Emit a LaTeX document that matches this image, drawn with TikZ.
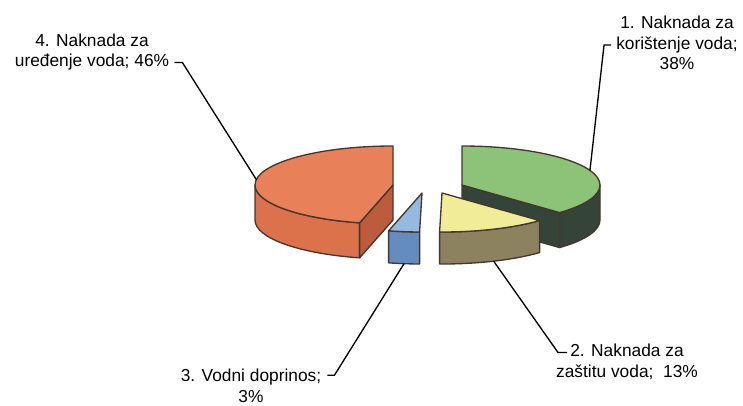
\documentclass[tikz,border=0pt]{standalone}
\usepackage{fontspec}
\setmainfont{Liberation Sans}
\usepackage{tikz}
\definecolor{edgec}{RGB}{70,55,45}
\definecolor{ortop}{RGB}{232,128,90}
\definecolor{orside}{RGB}{220,114,76}
\definecolor{ordark}{RGB}{188,92,60}
\definecolor{grtop}{RGB}{140,195,120}
\definecolor{grside}{RGB}{52,68,56}
\definecolor{yltop}{RGB}{240,236,152}
\definecolor{ylside}{RGB}{140,130,95}
\definecolor{bltop}{RGB}{150,185,225}
\definecolor{blside}{RGB}{100,140,190}

\begin{document}
\begin{tikzpicture}[x=0.75pt, y=0.75pt,
  slice/.style={draw=edgec, line width=1pt, line join=round},
  leader/.style={draw=black, line width=1pt},
  lbl/.style={inner sep=0pt, align=center, font=\fontsize{13}{15.5}\selectfont}]
\useasboundingbox (0,0) rectangle (743,405);

\begin{scope}[shift={(393,220)}]
  \path[slice, fill=orside] (180:138 and 39) arc[start angle=180, end angle=256, x radius=138, y radius=39]
    -- ++(0,-35) arc[start angle=256, end angle=180, x radius=138, y radius=39] -- cycle;
  \path[slice, fill=ordark] (0,0) -- (256:138 and 39) -- ++(0,-35) -- (0,-35) -- cycle;
  \path[slice, fill=ortop] (0,0) -- (90:138 and 39) arc[start angle=90, end angle=256, x radius=138, y radius=39] -- cycle;
  \coordinate (p4) at (172:138 and 39);
\end{scope}

\begin{scope}[shift={(462,220)}]
  \path[slice, fill=grside] (0,0) -- (-45:138 and 39) -- ++(0,-35) -- (0,-35) -- cycle;
  \path[slice, fill=grside] (-45:138 and 39) arc[start angle=-45, end angle=0, x radius=138, y radius=39]
    -- ++(0,-35) arc[start angle=0, end angle=-45, x radius=138, y radius=39] -- cycle;
  \path[slice, fill=grtop] (0,0) -- (-45:138 and 39) arc[start angle=-45, end angle=90, x radius=138, y radius=39] -- cycle;
  \coordinate (p1) at (22:138 and 39);
\end{scope}

\begin{scope}[shift={(442,212)}]
  \path[slice, fill=ylside] (-91:138 and 39) arc[start angle=-91, end angle=-45, x radius=138, y radius=39]
    -- ++(0,-32) arc[start angle=-45, end angle=-91, x radius=138, y radius=39] -- cycle;
  \path[slice, fill=yltop] (0,0) -- (-91:138 and 39) arc[start angle=-91, end angle=-45, x radius=138, y radius=39] -- cycle;
  \coordinate (p2) at (51.7,-68.2);
\end{scope}

\begin{scope}[shift={(422,212)}]
  \path[slice, fill=blside] (-104:138 and 39) arc[start angle=-104, end angle=-91, x radius=138, y radius=39]
    -- ++(0,-32) arc[start angle=-91, end angle=-104, x radius=138, y radius=39] -- cycle;
  \path[slice, fill=bltop] (0,0) -- (-104:138 and 39) arc[start angle=-104, end angle=-91, x radius=138, y radius=39] -- cycle;
  \coordinate (p3) at (-18,-70.7);
\end{scope}

\node[lbl] (l4) at (92,353) {4. Naknada za\\uređenje voda; 46\%};
\node[lbl] (l1) at (677,362) {1. Naknada za\\korištenje voda;\\38\%};
\node[lbl] (l2) at (627,43) {2. Naknada za\\zaštitu voda;\ \ 13\%};
\node[lbl] (l3) at (251,19) {3. Vodni doprinos;\\3\%};

\draw[leader] ([shift={(5,-10.5)}]l4.east) -- ++(8,0) -- (p4);
\draw[leader] ([shift={(-5,-2)}]l1.west) -- ++(-7,0) -- (p1);
\draw[leader] ([shift={(-60,9.5)}]l2.center) -- ++(-9,0) -- (p2);
\draw[leader] ([shift={(6,10.8)}]l3.east) -- ++(7,0) -- (p3);
\end{tikzpicture}
\end{document}
